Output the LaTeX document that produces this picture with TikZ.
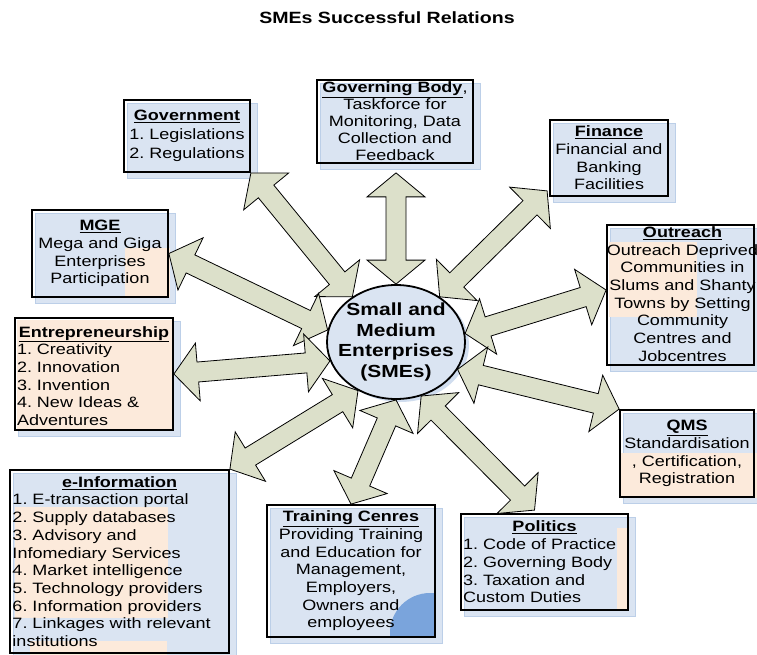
\documentclass[tikz,border=0pt]{standalone}
\usepackage{fontspec}
\setmainfont[FakeStretch=1.2]{Liberation Sans}
\usetikzlibrary{calc,shapes.geometric,fit}
\frenchspacing
\definecolor{boxblue}{HTML}{DAE4F2}
\definecolor{shadeblue}{HTML}{BCCFE8}
\definecolor{peach}{HTML}{FCEADB}
\definecolor{arrowfill}{HTML}{DCE0CA}
\definecolor{blobblue}{HTML}{7AA4DC}
\tikzset{
  frame/.style={draw=black, line width=1.8pt, inner sep=0pt, rectangle},
  txt/.style={inner sep=0pt, align=center, font={\fontsize{15}{17.7}\selectfont\parindent=0pt\frenchspacing}},
  listtxt/.style={txt, align=left},
  blockarr/.style={fill=arrowfill, draw=black, line width=0.8pt, line join=miter},
}
\newcommand{\blockarrow}[2]{%
  \filldraw[blockarr] (#1)
   -- ($(#1)!24pt!(#2)!29pt!90:(#2)$)
   -- ($(#1)!24pt!(#2)!10pt!90:(#2)$)
   -- ($(#2)!24pt!(#1)!10pt!-90:(#1)$)
   -- ($(#2)!24pt!(#1)!29pt!-90:(#1)$)
   -- (#2)
   -- ($(#2)!24pt!(#1)!29pt!90:(#1)$)
   -- ($(#2)!24pt!(#1)!10pt!90:(#1)$)
   -- ($(#1)!24pt!(#2)!10pt!-90:(#2)$)
   -- ($(#1)!24pt!(#2)!29pt!-90:(#2)$)
   -- cycle;}
\newcommand{\boxshade}[4]{\fill[boxblue, draw=shadeblue, line width=0.8pt] (#1+3,#2+3) rectangle (#3+7,#4+6);}
\newcommand{\headline}[1]{\makebox[\hsize][c]{\underline{\textbf{#1}}}}
\begin{document}
\begin{tikzpicture}[x=1pt,y=-1pt]
\useasboundingbox (0,0) rectangle (757,655);
\fill[white] (0,0) rectangle (757,655);

% title
\node[inner sep=0pt, font={\fontsize{16.3}{19}\selectfont\bfseries}] (title) at (387,18) {SMEs Successful Relations};

% shadows and fills
\boxshade{124}{100}{250}{172}
\boxshade{317}{80}{473}{163}
\boxshade{550}{120}{668}{196}
\boxshade{32}{210}{168}{297}
\boxshade{607}{225}{754}{365}
\boxshade{15}{318}{173}{430}
\boxshade{620}{410}{754}{497}
\boxshade{10}{470}{229}{653}
\boxshade{267}{505}{435}{637}
\boxshade{461}{514}{628}{610}

% peach patches
\fill[peach] (17,320) rectangle (172,429);
\fill[peach] (125,248) rectangle (170,297);
\fill[peach] (609,242) rectangle (697,317);
\fill[peach] (621,453) rectangle (757,498);
\fill[peach] (15,507) rectangle (168,618);
\fill[peach] (30,641) rectangle (167,655);
\fill[peach] (617,528) rectangle (627,609);
\begin{scope}
  \clip (268,506) rectangle (434,636);
  \fill[blobblue] (430,633) circle (40);
\end{scope}

% frames
\node[frame, fit={(124,100) (250,172)}] (gov) {};
\node[frame, fit={(317,80) (473,163)}] (gb) {};
\node[frame, fit={(550,120) (668,196)}] (fin) {};
\node[frame, fit={(32,210) (168,297)}] (mge) {};
\node[frame, fit={(607,225) (754,365)}] (out) {};
\node[frame, fit={(15,318) (173,430)}] (ent) {};
\node[frame, fit={(620,410) (754,497)}] (qms) {};
\node[frame, fit={(10,470) (229,653)}] (einfo) {};
\node[frame, fit={(267,505) (435,637)}] (train) {};
\node[frame, fit={(461,514) (628,610)}] (pol) {};

% central ellipse
\fill[shadeblue!70] (400,345) ellipse (69 and 57);
\node[ellipse, draw=black, line width=1.8pt, fill=boxblue, minimum width=138pt, minimum height=114pt, inner sep=0pt] (sme) at (396,342) {};
\node[inner sep=0pt, align=center, font={\fontsize{17.5}{20.7}\selectfont\bfseries}] (smetext) at (sme.center) {Small and\\Medium\\Enterprises\\(SMEs)};

% texts
\node[txt, font={\fontsize{15}{19}\selectfont}] (govtext) at (gov.center) {\underline{\textbf{Government}}\\1. Legislations\\2. Regulations};
\node[txt, font={\fontsize{15}{17}\selectfont}] (gbtext) at ($(gb.center)+(0,0)$) {\underline{\textbf{Governing Body}},\\Taskforce for\\Monitoring, Data\\Collection and\\Feedback};
\node[txt] (fintext) at (fin.center) {\underline{\textbf{Finance}}\\Financial and\\Banking\\Facilities};
\node[txt] (mgetext) at (mge.center) {\underline{\textbf{MGE}}\\Mega and Giga\\Enterprises\\Participation};
\node[txt] (outtext) at ($(out.center)+(2,-1)$) {\underline{\textbf{Outreach}}\\Outreach Deprived\\Communities in\\Slums and Shanty\\Towns by Setting\\Community\\Centres and\\Jobcentres};
\node[listtxt, text width=154pt] (enttext) at ($(ent.center)+(0,2)$) {\headline{Entrepreneurship}\\1. Creativity\\2. Innovation\\3. Invention\\4. New Ideas \&\\Adventures};
\node[txt] (qmstext) at (qms.center) {\underline{\textbf{QMS}}\\Standardisation\\, Certification,\\Registration};
\node[listtxt, text width=214pt] (einfotext) at ($(einfo.center)+(0,0)$) {\headline{e-Information}\\1. E-transaction portal\\2. Supply databases\\3. Advisory and\\Infomediary Services\\4. Market intelligence\\5. Technology providers\\6. Information providers\\7. Linkages with relevant\\institutions};
\node[txt] (traintext) at (train.center) {\underline{\textbf{Training Cenres}}\\Providing Training\\and Education for\\Management,\\Employers,\\Owners and\\employees};
\node[listtxt, text width=163pt] (poltext) at (pol.center) {\headline{Politics}\\1. Code of Practice\\2. Governing Body\\3. Taxation and\\Custom Duties};

% arrow ends
\coordinate (gbtip) at ($(gb.south)+(1,9)$);
\coordinate (fintip) at ($(fin.south west)+(-2,-6)$);
\coordinate (outtip) at ($(out.west)+(0,-5)$);
\coordinate (poltip) at ($(pol.north)+(-10,-3)$);

% arrows
\blockarrow{sme.134}{gov.south east}
\blockarrow{sme.90}{gbtip}
\blockarrow{sme.46}{fintip}
\blockarrow{sme.170}{mge.east}
\blockarrow{sme.7}{outtip}
\blockarrow{sme.196}{ent.east}
\blockarrow{sme.336}{qms.north west}
\blockarrow{sme.232}{einfo.north east}
\blockarrow{sme.270}{train.north}
\blockarrow{sme.295}{poltip}
\end{tikzpicture}
\end{document}
